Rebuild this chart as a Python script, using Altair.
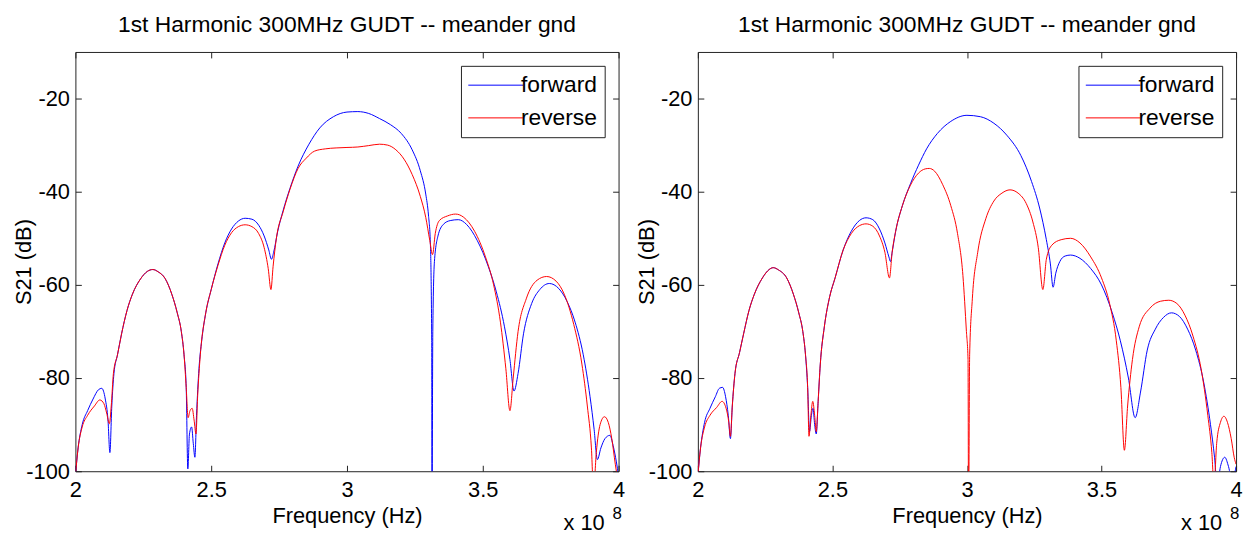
import altair as alt
import pandas as pd

TITLE = "1st Harmonic 300MHz GUDT -- meander gnd"
X_TITLE = "Frequency (Hz)"
Y_TITLE = "S21 (dB)"
SERIES = ["forward", "reverse"]
COLORS = ["#0000FF", "#FF0000"]
X_TICKS = [2, 2.5, 3, 3.5, 4]
Y_TICKS = [-100, -80, -60, -40, -20]
X_DOMAIN = [2, 4]
Y_DOMAIN = [-100, -10]
EXP_BASE = "x 10"
EXP_POWER = "8"

# ---------------- left panel ----------------
L_FWD_F = [2.000, 2.010, 2.025, 2.045, 2.065, 2.085, 2.097, 2.110, 2.120, 2.127, 2.134, 2.142,
           2.155, 2.170, 2.190, 2.210, 2.240, 2.265, 2.285, 2.305, 2.330, 2.355, 2.375, 2.390,
           2.400, 2.408, 2.414, 2.420, 2.428, 2.434, 2.440, 2.446, 2.455, 2.465, 2.480, 2.500,
           2.525, 2.550, 2.575, 2.600, 2.625, 2.650, 2.675, 2.695, 2.712, 2.722, 2.730, 2.745,
           2.765, 2.790, 2.820, 2.860, 2.900, 2.950, 3.000, 3.040, 3.080, 3.120, 3.160, 3.200,
           3.240, 3.270, 3.290, 3.300, 3.307, 3.312, 3.313, 3.316, 3.322, 3.335, 3.355, 3.380,
           3.410, 3.440, 3.480, 3.520, 3.550, 3.580, 3.600, 3.615, 3.630, 3.650, 3.680, 3.710,
           3.745, 3.780, 3.810, 3.840, 3.870, 3.895, 3.910, 3.922, 3.935, 3.950, 3.968, 3.980,
           3.992, 4.000]
L_FWD_DB = [-101, -95, -90, -87, -84.5, -82.5, -82.2, -84.5, -89, -96, -86, -79,
            -75, -70.5, -65.5, -62, -58.7, -57.1, -56.7, -57.2, -58.6, -62, -66, -70,
            -75, -82, -99.5, -92, -90.5, -94, -97, -88, -78, -72, -66, -61,
            -55.5, -51, -48, -46.3, -45.7, -45.9, -47.2, -49.5, -52.5, -54.5, -53, -48.5,
            -44, -39.3, -34.5, -29.8, -26.3, -23.9, -22.9, -22.8, -23.2, -24.3, -25.6, -27.5,
            -31, -35.5, -40.5, -45, -51, -72, -112, -70, -55, -49.5, -47, -46.2,
            -46, -47, -50.5, -56, -61.5, -69, -76, -82.8, -79, -70.5, -64, -61,
            -59.7, -60.8, -63.5, -68, -75, -84, -91, -97.5, -95, -93, -92.3, -94.5,
            -98, -101]

L_REV_F = [2.000, 2.010, 2.025, 2.045, 2.070, 2.090, 2.105, 2.115, 2.125, 2.132, 2.140,
           2.155, 2.170, 2.190, 2.210, 2.240, 2.265, 2.285, 2.305, 2.330, 2.355, 2.375, 2.390,
           2.400, 2.408, 2.415, 2.422, 2.430, 2.437, 2.444, 2.450, 2.460, 2.480, 2.500,
           2.525, 2.550, 2.575, 2.600, 2.625, 2.650, 2.675, 2.695, 2.710, 2.720, 2.728, 2.740,
           2.765, 2.790, 2.820, 2.850, 2.880, 2.920, 2.960, 3.000, 3.040, 3.080, 3.120, 3.150,
           3.180, 3.210, 3.240, 3.270, 3.290, 3.305, 3.315, 3.325, 3.340, 3.370, 3.400, 3.430,
           3.470, 3.510, 3.540, 3.565, 3.585, 3.600, 3.612, 3.630, 3.660, 3.700, 3.735, 3.770,
           3.800, 3.835, 3.865, 3.885, 3.900, 3.908, 3.918, 3.932, 3.948, 3.962, 3.975, 3.988,
           4.000]
L_REV_DB = [-101, -95, -90.5, -88, -86, -84.7, -85.5, -87.5, -89.8, -86, -79,
            -75, -70.5, -65.5, -62, -58.7, -57.1, -56.7, -57.2, -58.6, -62, -66, -70,
            -75, -82, -88.5, -87, -86.5, -89, -92, -84, -75, -66, -61,
            -55.8, -51.5, -48.8, -47.5, -47.1, -47.5, -49, -52, -56.5, -61, -56, -50,
            -44.3, -39.5, -35, -32.8, -31.3, -30.8, -30.6, -30.5, -30.4, -30.1, -29.8, -30,
            -31, -33, -36.3, -41, -45.5, -50.5, -53.5, -49, -46.2, -45.2, -44.8, -45.5,
            -48.5, -54, -60, -68, -78, -87, -80, -70, -63, -59, -58.2, -59.2,
            -62, -68.5, -77, -86, -95, -104, -96, -90, -88.3, -89.5, -93, -98.5,
            -103]

# ---------------- right panel ----------------
R_FWD_F = [2.000, 2.010, 2.025, 2.045, 2.065, 2.080, 2.092, 2.103, 2.113, 2.121, 2.128, 2.138,
           2.155, 2.170, 2.190, 2.210, 2.240, 2.265, 2.280, 2.300, 2.330, 2.355, 2.375, 2.390,
           2.400, 2.408, 2.415, 2.422, 2.428, 2.434, 2.440, 2.447, 2.455, 2.470, 2.490, 2.510,
           2.540, 2.570, 2.600, 2.625, 2.650, 2.675, 2.695, 2.710, 2.716, 2.722, 2.735, 2.760,
           2.790, 2.820, 2.850, 2.890, 2.940, 3.000, 3.050, 3.100, 3.150, 3.200, 3.240, 3.270,
           3.295, 3.310, 3.320, 3.330, 3.345, 3.365, 3.385, 3.420, 3.460, 3.500, 3.540, 3.570,
           3.600, 3.625, 3.645, 3.670, 3.700, 3.730, 3.760, 3.790, 3.820, 3.850, 3.880, 3.905,
           3.920, 3.930, 3.942, 3.958, 3.972, 3.985, 4.000]
R_FWD_DB = [-101, -95, -89.5, -86.5, -84, -82.2, -82, -84, -88, -93, -86, -79,
            -74.5, -70.5, -65.5, -62, -58.5, -56.7, -56.3, -56.8, -58.5, -62, -66, -70,
            -75, -82, -91.5, -88, -86.5, -90, -92, -85, -77, -69, -62.5, -58.5,
            -52.5, -48.5, -46.2, -45.6, -46, -48, -51, -54, -55, -53, -48.5, -43,
            -38.3, -34.3, -30.8, -27.5, -24.9, -23.6, -23.9, -25.3, -28, -32.2, -37.8, -43.5,
            -50.3, -55.5, -60.5, -57.5, -55, -53.8, -53.6, -54.3, -56.5, -60, -66, -72,
            -80, -88.5, -83, -74, -69.5, -67, -66, -66.8, -69.5, -74, -81, -90,
            -97, -103, -99, -97, -99, -102, -99]

R_REV_F = [2.000, 2.010, 2.025, 2.045, 2.070, 2.090, 2.105, 2.115, 2.121, 2.128, 2.138,
           2.155, 2.170, 2.190, 2.210, 2.240, 2.265, 2.280, 2.300, 2.330, 2.355, 2.375, 2.390,
           2.400, 2.408, 2.413, 2.420, 2.427, 2.434, 2.440, 2.447, 2.455, 2.470, 2.490, 2.510,
           2.540, 2.570, 2.600, 2.625, 2.650, 2.675, 2.695, 2.712, 2.722, 2.735, 2.760,
           2.790, 2.820, 2.845, 2.860, 2.880, 2.910, 2.940, 2.965, 2.985, 2.998, 3.004, 3.006,
           3.010, 3.020, 3.040, 3.070, 3.100, 3.130, 3.160, 3.190, 3.220, 3.245, 3.265, 3.282,
           3.295, 3.315, 3.350, 3.385, 3.420, 3.460, 3.500, 3.530, 3.555, 3.572, 3.585, 3.597,
           3.615, 3.640, 3.680, 3.720, 3.750, 3.780, 3.810, 3.840, 3.870, 3.895, 3.910, 3.918,
           3.928, 3.942, 3.955, 3.968, 3.982, 3.993, 4.000]
R_REV_DB = [-101, -95, -90.5, -88, -86.3, -85, -86.5, -89.5, -92.5, -86, -79,
            -74.5, -70.5, -65.5, -62, -58.5, -56.7, -56.3, -56.8, -58.5, -62, -66, -70,
            -75, -82, -92.5, -88, -85, -88, -91.5, -85, -77, -69, -62.5, -58.5,
            -52.5, -49, -47.3, -46.9, -47.4, -49.5, -53, -58.5, -53, -48.5, -43,
            -38.6, -36, -35.1, -35, -35.6, -38.5, -43, -49, -58, -70, -76, -112,
            -75, -63, -53, -45.8, -42, -40.3, -39.6, -40.3, -42.5, -46.5, -52, -61,
            -54.5, -51.5, -50.3, -50, -51, -54, -58.5, -64, -72, -82, -95.5, -86,
            -76, -69, -65, -63.5, -63.3, -64, -66.5, -71, -78, -88, -96, -103,
            -94, -89.5, -88.2, -89.5, -93, -97, -98.5]

FONT = "Liberation Sans"
PLOT_H = 423
LABEL_SIZE = 22


def make_df(fwd_f, fwd_db, rev_f, rev_db):
    a = pd.DataFrame({"f": fwd_f, "db": fwd_db, "series": SERIES[0]})
    b = pd.DataFrame({"f": rev_f, "db": rev_db, "series": SERIES[1]})
    return pd.concat([a, b], ignore_index=True)


def panel(df, width):
    grid_x = [6, PLOT_H - 12, 6, 3000]
    grid_y = [6, width - 12, 6, 3000]
    x_enc = alt.X(
        "f:Q",
        scale=alt.Scale(domain=X_DOMAIN, nice=False, zero=False),
        axis=alt.Axis(
            values=X_TICKS, labelExpr="'' + datum.value", ticks=False, tickSize=0,
            domain=False, grid=True, gridDash=grid_x, gridColor="#222", gridOpacity=1,
            gridWidth=1, labelFontSize=LABEL_SIZE, labelColor="black", labelFont=FONT,
            labelPadding=25, labelBaseline="alphabetic", labelFlush=False,
            title=X_TITLE, titleFontSize=LABEL_SIZE, titleFont=FONT, titleFontWeight="normal",
            titleColor="black", titleY=52, titleBaseline="alphabetic",
        ),
    )
    y_enc = alt.Y(
        "db:Q",
        scale=alt.Scale(domain=Y_DOMAIN, nice=False, zero=False),
        axis=alt.Axis(
            values=Y_TICKS, labelExpr="'' + datum.value", ticks=False, tickSize=0,
            domain=False, grid=True, gridDash=grid_y, gridColor="#222", gridOpacity=1,
            gridWidth=1, labelFontSize=LABEL_SIZE, labelColor="black", labelFont=FONT,
            labelPadding=6, labelFlush=False,
            title=Y_TITLE, titleFontSize=LABEL_SIZE, titleFont=FONT, titleFontWeight="normal",
            titleColor="black", titleX=-40, titleY=PLOT_H / 2, titleBaseline="bottom",
        ),
    )
    lines = alt.Chart(df).mark_line(strokeWidth=1, clip=True, interpolate="monotone").encode(
        x=x_enc,
        y=y_enc,
        color=alt.Color(
            "series:N",
            scale=alt.Scale(domain=SERIES, range=COLORS),
            legend=alt.Legend(
                title=None, orient="top-right", offset=14,
                symbolType="M-2.3,0H2.3", symbolSize=576, symbolStrokeWidth=1,
                symbolOffset=15.5, labelOffset=13, labelFontSize=23, labelFont=FONT,
                labelColor="black", rowPadding=8, padding=7, strokeColor="#222",
                fillColor="white", cornerRadius=0,
            ),
        ),
    )
    anchor = pd.DataFrame({"f": [X_DOMAIN[1]], "db": [Y_DOMAIN[0]]})
    base_txt = alt.Chart(anchor).mark_text(
        text=EXP_BASE, align="right", baseline="alphabetic", dx=-14, dy=59,
        fontSize=LABEL_SIZE, font=FONT, color="black",
    ).encode(x="f:Q", y="db:Q")
    pow_txt = alt.Chart(anchor).mark_text(
        text=EXP_POWER, align="left", baseline="alphabetic", dx=-6, dy=48,
        fontSize=17, font=FONT, color="black",
    ).encode(x="f:Q", y="db:Q")
    return alt.layer(lines, base_txt, pow_txt).properties(
        width=width, height=PLOT_H,
        title=alt.TitleParams(
            TITLE, fontSize=23, font=FONT, fontWeight="normal", color="black",
            anchor="middle", frame="group", baseline="alphabetic", offset=-3,
        ),
    )


left = panel(make_df(L_FWD_F, L_FWD_DB, L_REV_F, L_REV_DB), 548)
right = panel(make_df(R_FWD_F, R_FWD_DB, R_REV_F, R_REV_DB), 543)

chart = (
    alt.hconcat(left, right, spacing=80, bounds="flush")
    .resolve_legend(color="independent")
    .resolve_scale(color="independent")
    .properties(padding={"left": 4, "top": 3, "right": 0, "bottom": 0}, background="white")
    .configure_view(stroke="#222", strokeWidth=1)
)

chart.save("out.html", embed_options={"renderer": "svg", "actions": False})
